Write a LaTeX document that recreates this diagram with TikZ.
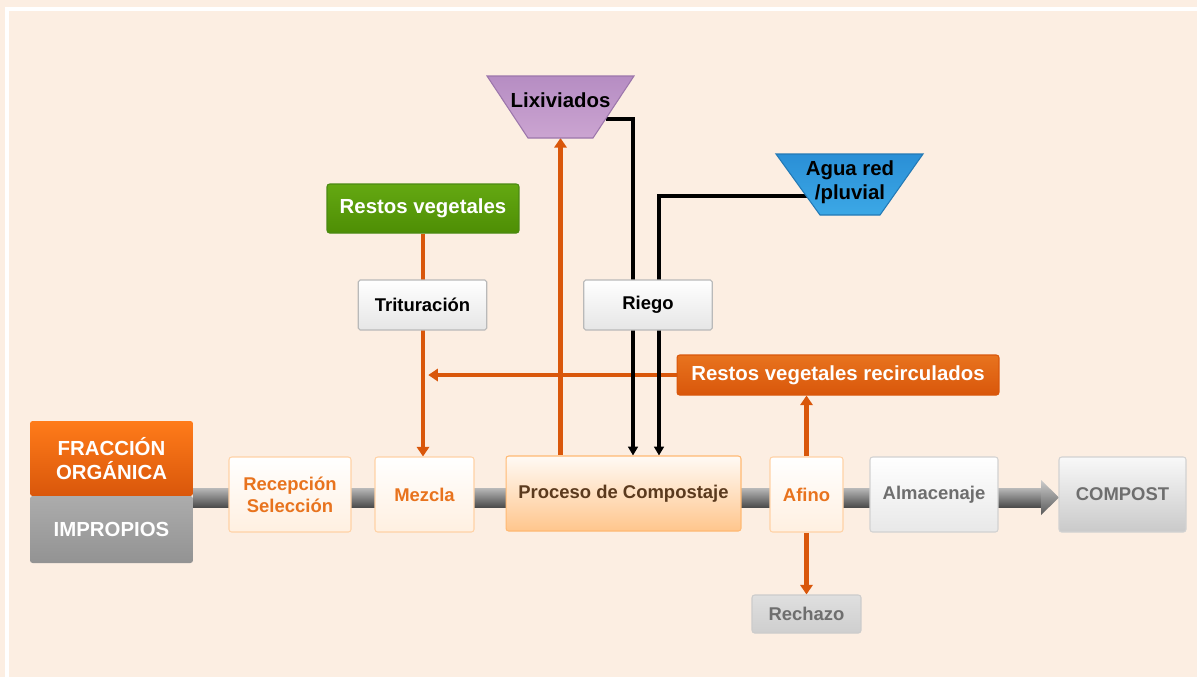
\documentclass[tikz,border=0pt]{standalone}
\usepackage{fontspec}
\setmainfont{Liberation Sans}
\usetikzlibrary{arrows.meta,positioning}

\definecolor{fondo}{HTML}{FCEEE2}
\definecolor{naranja}{HTML}{E8731E}
\definecolor{naranjaosc}{HTML}{D9570B}
\definecolor{marron}{HTML}{5B3A1E}
\definecolor{grisletra}{HTML}{6E6E6E}
\definecolor{verdearr}{HTML}{64A812}
\definecolor{verdeab}{HTML}{4E8E04}
\definecolor{verdeborde}{HTML}{4A8A12}
\definecolor{lilaarr}{HTML}{B68DC3}
\definecolor{lilaab}{HTML}{CBA4D1}
\definecolor{lilaborde}{HTML}{9C76AB}
\definecolor{azularr}{HTML}{2A8FD6}
\definecolor{azulab}{HTML}{3CA8E6}
\definecolor{azulborde}{HTML}{2379B5}

\pgfdeclarelayer{atras}
\pgfsetlayers{atras,main}

\tikzset{
  paso/.style={rounded corners=1.5pt, line width=0.6pt, inner sep=0pt,
    minimum height=1.5cm, align=center,
    font=\bfseries\fontsize{10.5}{12.5}\selectfont},
  pasonar/.style={paso, draw=orange!35, top color=white, bottom color=orange!12,
    text=naranja},
  pasogris/.style={paso, draw=gray!35, top color=white, bottom color=gray!18,
    text=grisletra},
  titulo/.style={rounded corners=1.5pt, line width=0.6pt, inner sep=0pt,
    align=center, text=white, font=\bfseries\fontsize{11.6}{14}\selectfont},
  aux/.style={rounded corners=1pt, line width=0.6pt, inner sep=0pt,
    draw=gray!55, top color=white, bottom color=gray!20,
    minimum width=2.57cm, minimum height=1cm,
    font=\bfseries\fontsize{10.5}{12.5}\selectfont},
  flechanar/.style={draw=naranjaosc, line width=2.3pt,
    -{Triangle[width=7pt,length=5.5pt]}},
  flechanegra/.style={draw=black, line width=1.8pt,
    -{Triangle[width=5.5pt,length=5pt]}},
}

\begin{document}
\begin{tikzpicture}[x=0.02cm,y=-0.02cm]

    \useasboundingbox (0,0) rectangle (1197,677);

    %main line
    \node[titulo, top color=orange!85!red!90!white, bottom color=naranjaosc,
      minimum width=3.26cm, minimum height=1.5cm] (frac) at (111.5,458.5) {FRACCIÓN\\ORGÁNICA};
    \node[titulo, top color=gray!65, bottom color=gray!85,
      minimum width=3.26cm, minimum height=1.34cm] (impr) at (111.5,529.5) {IMPROPIOS};

    \node[pasonar, minimum width=2.44cm] (recep) at (290,494.5) {Recepción\\Selección};
    \node[pasonar, minimum width=1.98cm] (mezcla) at (424.5,494.5) {Mezcla};
    \node[paso, draw=orange!55, top color=orange!4, bottom color=orange!45,
      text=marron, minimum width=4.7cm] (proceso) at (623.5,493.5) {Proceso de Compostaje};
    \node[pasonar, minimum width=1.46cm] (afino) at (806.5,494.5) {Afino};
    \node[pasogris, minimum width=2.56cm] (almac) at (934,494.5) {Almacenaje};
    \node[pasogris, top color=gray!5, bottom color=gray!42, minimum width=2.54cm] (compost) at (1122.5,494.5) {COMPOST};
    \node[paso, draw=gray!40, top color=gray!25, bottom color=gray!38, text=grisletra,
      minimum width=2.18cm, minimum height=0.76cm] (rechazo) at (806.5,614) {Rechazo};

    %upper part
    \node[titulo, draw=verdeborde, top color=verdearr, bottom color=verdeab,
      minimum width=3.84cm, minimum height=0.98cm] (restos) at (423,208.5) {Restos vegetales};
    \node[aux] (trit) at (422.5,305) {Trituración};
    \node[aux] (riego) at (648,305) {Riego};
    \node[titulo, draw=naranjaosc, top color=naranja, bottom color=naranjaosc,
      minimum width=6.44cm, minimum height=0.8cm] (recirc) at (838,375) {Restos vegetales recirculados};

    %tanks
    \draw[draw=lilaborde, line width=0.6pt, top color=lilaarr, bottom color=lilaab]
      (487,76) -- (634,76) -- (593,138) -- (528,138) -- cycle;
    \node[font=\bfseries\fontsize{11.6}{14}\selectfont] (lix) at (560.5,100) {Lixiviados};
    \draw[draw=azulborde, line width=0.6pt, top color=azularr, bottom color=azulab]
      (776,154) -- (923,154) -- (880,215) -- (820,215) -- cycle;
    \node[align=center, font=\bfseries\fontsize{11.6}{13.8}\selectfont] (agua) at (850,182) {Agua red\\/pluvial};

    \coordinate (lixR) at (606,119);
    \coordinate (lixcodo) at (633,119);
    \coordinate (lixbase) at (560.5,138);
    \coordinate (aguaL) at (808,196);
    \coordinate (aguacodo) at (659,196);

    \begin{pgfonlayer}{atras}
    \fill[fondo] (0,0) rectangle (1197,677);
    \draw[white, line width=2.3pt] (7,677) -- (7,9) -- (1197,9);

    %grey bar
    \shade[top color=gray!55, middle color=gray!70!black, bottom color=gray!60!black]
      (193,488) rectangle (1041,507);
    \shade[top color=gray!40, bottom color=gray!70!black]
      (1041,480) -- (1059,497.5) -- (1041,515) -- cycle;

    \draw[flechanar] (restos.south) -- (restos.south |- mezcla.north);
    \draw[flechanar, shorten >=3pt] (recirc.west) -- (recirc.west -| restos.south);
    \draw[flechanar] (afino.north) -- (afino.north |- recirc.south);
    \draw[flechanar] (afino.south) -- (rechazo.north);
    \draw[flechanar] (proceso.north -| lixbase) -- (lixbase);

    \draw[flechanegra] (lixR) -- (lixcodo) -- (lixcodo |- proceso.north);
    \draw[flechanegra] (aguaL) -- (aguacodo) -- (aguacodo |- proceso.north);
    \end{pgfonlayer}

\end{tikzpicture}
\end{document}
